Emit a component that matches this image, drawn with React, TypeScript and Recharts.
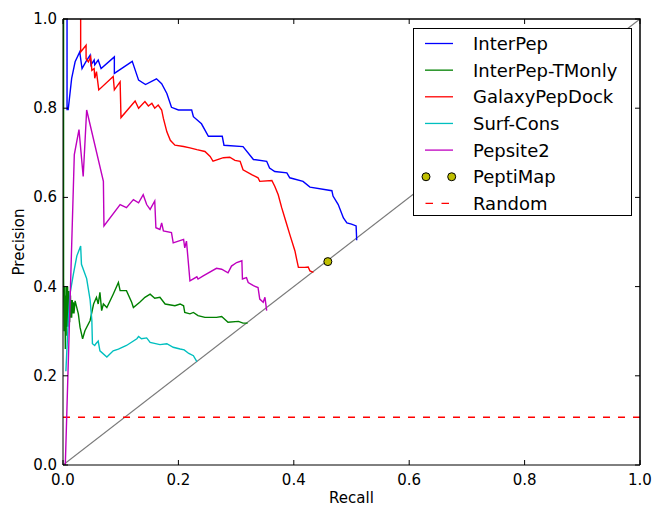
import { ComposedChart, Line, XAxis, YAxis, ReferenceLine } from 'recharts'

// [recall, precision] pairs
const interPep: [number, number][] = [
  [0.007, 1.0], [0.007, 0.797], [0.009, 0.797], [0.015, 0.867], [0.021, 0.904], [0.029, 0.926],
  [0.033, 0.889], [0.040, 0.905], [0.047, 0.919], [0.0485, 0.897], [0.054, 0.908], [0.055, 0.897],
  [0.061, 0.908], [0.066, 0.889], [0.089, 0.915], [0.089, 0.878], [0.120, 0.905], [0.131, 0.863],
  [0.143, 0.853], [0.162, 0.866], [0.171, 0.855], [0.180, 0.833], [0.188, 0.802], [0.200, 0.796],
  [0.223, 0.796], [0.226, 0.781], [0.240, 0.765], [0.252, 0.737], [0.276, 0.737], [0.279, 0.717],
  [0.312, 0.714], [0.330, 0.685], [0.353, 0.681], [0.358, 0.666], [0.367, 0.658], [0.388, 0.655],
  [0.393, 0.644], [0.416, 0.636], [0.428, 0.623], [0.466, 0.615], [0.468, 0.603], [0.477, 0.584],
  [0.486, 0.554], [0.492, 0.543], [0.500, 0.540], [0.508, 0.536], [0.509, 0.504],
]

const interPepTM: [number, number][] = [
  [0.001, 1.0], [0.001, 0.42], [0.002, 0.30], [0.003, 0.40], [0.004, 0.26], [0.005, 0.38],
  [0.0055, 0.29], [0.006, 0.40], [0.0065, 0.31], [0.007, 0.39], [0.0075, 0.32], [0.008, 0.40],
  [0.0085, 0.31], [0.009, 0.38], [0.0095, 0.32], [0.010, 0.39], [0.0105, 0.33], [0.011, 0.38],
  [0.0115, 0.32], [0.012, 0.37], [0.0125, 0.33], [0.013, 0.38], [0.0135, 0.34], [0.014, 0.37],
  [0.015, 0.33], [0.016, 0.37], [0.017, 0.34], [0.018, 0.365], [0.019, 0.34], [0.021, 0.368],
  [0.0266, 0.339], [0.0295, 0.309], [0.034, 0.283], [0.038, 0.301], [0.047, 0.324], [0.053, 0.361],
  [0.058, 0.376], [0.061, 0.361], [0.064, 0.387], [0.067, 0.346], [0.070, 0.361], [0.076, 0.353],
  [0.087, 0.383], [0.096, 0.409], [0.099, 0.391], [0.110, 0.391], [0.119, 0.365], [0.122, 0.353],
  [0.133, 0.365], [0.142, 0.376], [0.151, 0.383], [0.159, 0.374], [0.168, 0.376], [0.177, 0.361],
  [0.194, 0.357], [0.203, 0.361], [0.209, 0.357], [0.211, 0.342], [0.220, 0.339], [0.226, 0.342],
  [0.234, 0.335], [0.246, 0.331], [0.266, 0.331], [0.275, 0.333], [0.286, 0.320], [0.304, 0.322],
  [0.312, 0.318], [0.320, 0.318],
]

const galaxy: [number, number][] = [
  [0.0306, 1.0], [0.0306, 0.926], [0.040, 0.941], [0.040, 0.911], [0.044, 0.904], [0.048, 0.915],
  [0.050, 0.885], [0.054, 0.889], [0.055, 0.867], [0.058, 0.882], [0.062, 0.841], [0.087, 0.871],
  [0.089, 0.841], [0.099, 0.859], [0.1005, 0.779], [0.125, 0.816], [0.131, 0.800], [0.142, 0.815],
  [0.148, 0.805], [0.154, 0.811], [0.159, 0.800], [0.165, 0.807], [0.171, 0.796], [0.174, 0.777],
  [0.180, 0.747], [0.186, 0.728], [0.194, 0.717], [0.209, 0.714], [0.220, 0.711], [0.232, 0.707],
  [0.246, 0.703], [0.255, 0.692], [0.260, 0.681], [0.278, 0.689], [0.289, 0.690], [0.298, 0.683],
  [0.307, 0.681], [0.312, 0.662], [0.327, 0.651], [0.338, 0.644], [0.341, 0.636], [0.362, 0.638],
  [0.367, 0.625], [0.373, 0.606], [0.379, 0.577], [0.386, 0.547], [0.393, 0.517], [0.402, 0.480],
  [0.405, 0.461], [0.408, 0.443], [0.419, 0.443], [0.425, 0.444], [0.428, 0.435], [0.434, 0.432],
]

const surfCons: [number, number][] = [
  [0.005, 0.21], [0.006, 0.238], [0.009, 0.32], [0.012, 0.383], [0.018, 0.428], [0.024, 0.469],
  [0.0306, 0.491], [0.032, 0.450], [0.041, 0.418], [0.047, 0.370], [0.050, 0.324], [0.051, 0.272],
  [0.055, 0.268], [0.057, 0.272], [0.061, 0.278], [0.064, 0.256], [0.076, 0.242], [0.087, 0.256],
  [0.096, 0.260], [0.110, 0.268], [0.128, 0.283], [0.131, 0.288], [0.136, 0.283], [0.145, 0.285],
  [0.151, 0.275], [0.168, 0.270], [0.180, 0.272], [0.191, 0.264], [0.203, 0.260], [0.210, 0.258],
  [0.218, 0.250], [0.226, 0.245], [0.232, 0.232],
]

const pepsite2: [number, number][] = [
  [0.004, 0.0], [0.0196, 0.696], [0.0277, 0.752], [0.035, 0.647], [0.041, 0.796], [0.070, 0.636],
  [0.071, 0.536], [0.099, 0.584], [0.110, 0.577], [0.122, 0.595], [0.131, 0.588], [0.139, 0.606],
  [0.145, 0.584], [0.151, 0.573], [0.159, 0.592], [0.161, 0.532], [0.168, 0.528], [0.171, 0.543],
  [0.174, 0.525], [0.188, 0.521], [0.191, 0.498], [0.209, 0.506], [0.211, 0.487], [0.214, 0.502],
  [0.220, 0.413], [0.232, 0.422], [0.234, 0.417], [0.243, 0.424], [0.266, 0.441], [0.275, 0.439],
  [0.286, 0.431], [0.292, 0.446], [0.301, 0.454], [0.310, 0.458], [0.311, 0.417], [0.318, 0.420],
  [0.321, 0.409], [0.330, 0.402], [0.338, 0.398], [0.341, 0.372], [0.347, 0.365], [0.350, 0.376],
  [0.353, 0.346],
]

const peptiMap: [number, number][] = [[0.459, 0.456]]
const diagonal: [number, number][] = [[0, 0], [1, 1]]
const randomPrecision = 0.107

const ticks = [0, 0.2, 0.4, 0.6, 0.8, 1.0]

const legendItems = [
  { name: 'InterPep', color: '#0000ff', kind: 'line' },
  { name: 'InterPep-TMonly', color: '#008000', kind: 'line' },
  { name: 'GalaxyPepDock', color: '#ff0000', kind: 'line' },
  { name: 'Surf-Cons', color: '#00bfbf', kind: 'line' },
  { name: 'Pepsite2', color: '#bf00bf', kind: 'line' },
  { name: 'PeptiMap', color: '#bfbf00', kind: 'dot' },
  { name: 'Random', color: '#ff0000', kind: 'dash' },
]

const FONT = '"DejaVu Sans", sans-serif'
const W = 654
const H = 506
const M = { top: 19, right: 14, left: 63, bottom: 41 }
const plotW = W - M.left - M.right
const plotH = H - M.top - M.bottom
const toRows = (pts: [number, number][]) => pts.map(([r, p]) => ({ r, p }))

const BottomTick = (props: any) => {
  const { x, y, payload } = props
  return (
    <g>
      <line x1={x} x2={x} y1={y} y2={y - 5} stroke="#000" />
      <text x={x} y={y + 20} textAnchor="middle" fontSize={15} fontFamily={FONT} fill="#000">
        {payload.value.toFixed(1)}
      </text>
    </g>
  )
}
const LeftTick = (props: any) => {
  const { x, y, payload } = props
  return (
    <g>
      <line x1={x} x2={x + 5} y1={y} y2={y} stroke="#000" />
      <text x={x - 6} y={y + 5} textAnchor="end" fontSize={15} fontFamily={FONT} fill="#000">
        {payload.value.toFixed(1)}
      </text>
    </g>
  )
}

const series = [
  { data: interPep, color: '#0000ff' },
  { data: interPepTM, color: '#008000' },
  { data: galaxy, color: '#ff0000' },
  { data: surfCons, color: '#00bfbf' },
  { data: pepsite2, color: '#bf00bf' },
]

export default function App() {
  const right = M.left + plotW
  return (
    <div style={{ position: 'absolute', left: 0, top: 0, width: W, height: H, background: '#fff' }}>
      <ComposedChart width={W} height={H} margin={{ top: M.top, right: M.right, bottom: 0, left: 0 }}>
        <XAxis dataKey="r" type="number" domain={[0, 1]} ticks={ticks} height={M.bottom}
          tickSize={0} tickMargin={0} tick={<BottomTick />} axisLine={{ stroke: '#000' }} allowDataOverflow />
        <YAxis dataKey="p" type="number" domain={[0, 1]} ticks={ticks} width={M.left}
          tickSize={0} tickMargin={0} tick={<LeftTick />} axisLine={{ stroke: '#000' }} allowDataOverflow />
        <Line data={toRows(diagonal)} dataKey="p" stroke="#7a7a7a" strokeWidth={1.2}
          dot={false} isAnimationActive={false} />
        <ReferenceLine y={randomPrecision} stroke="#ff0000" strokeWidth={1.6} strokeDasharray="7 8" />
        {series.map((s, i) => (
          <Line key={i} data={toRows(s.data)} dataKey="p" type="linear"
            stroke={s.color} strokeWidth={1.4} dot={false} isAnimationActive={false} />
        ))}
        <Line data={toRows(peptiMap)} dataKey="p" stroke="none"
          dot={{ r: 4, fill: '#bfbf00', stroke: '#000', strokeWidth: 1 }} isAnimationActive={false} />
      </ComposedChart>
      <svg width={W} height={H} style={{ position: 'absolute', left: 0, top: 0, pointerEvents: 'none' }}>
        {/* full frame with inward ticks on top and right, matplotlib classic style */}
        <path d={`M${M.left},${M.top} H${right} V${M.top + plotH}`} fill="none" stroke="#000" strokeWidth={1.5} />
        {ticks.map((t) => (
          <g key={t}>
            <line x1={M.left + t * plotW} x2={M.left + t * plotW} y1={M.top} y2={M.top + 5} stroke="#000" />
            <line x1={right} x2={right - 5} y1={M.top + (1 - t) * plotH} y2={M.top + (1 - t) * plotH} stroke="#000" />
          </g>
        ))}
        <text x={351.5} y={503} textAnchor="middle" fontSize={15} fontFamily={FONT}>Recall</text>
        <text x={24} y={242} textAnchor="middle" fontSize={15} fontFamily={FONT}
          transform="rotate(-90, 24, 242)">Precision</text>
        <rect x={413.5} y={28.5} width={218} height={187} fill="#fff" stroke="#000" strokeWidth={1} />
        {legendItems.map((it, i) => {
          const cy = 43.5 + i * 26.65
          return (
            <g key={it.name}>
              {it.kind === 'line' && (
                <line x1={425} x2={453} y1={cy} y2={cy} stroke={it.color} strokeWidth={1.3} />
              )}
              {it.kind === 'dash' && (
                <line x1={425.5} x2={453} y1={cy} y2={cy} stroke={it.color} strokeWidth={1.3}
                  strokeDasharray="7.5 8.5" />
              )}
              {it.kind === 'dot' && (
                <g>
                  <circle cx={426} cy={cy} r={4} fill={it.color} stroke="#000" />
                  <circle cx={451.7} cy={cy} r={4} fill={it.color} stroke="#000" />
                </g>
              )}
              <text x={473} y={cy + 6.5} fontSize={18} fontFamily={FONT} fill="#000">{it.name}</text>
            </g>
          )
        })}
      </svg>
    </div>
  )
}
